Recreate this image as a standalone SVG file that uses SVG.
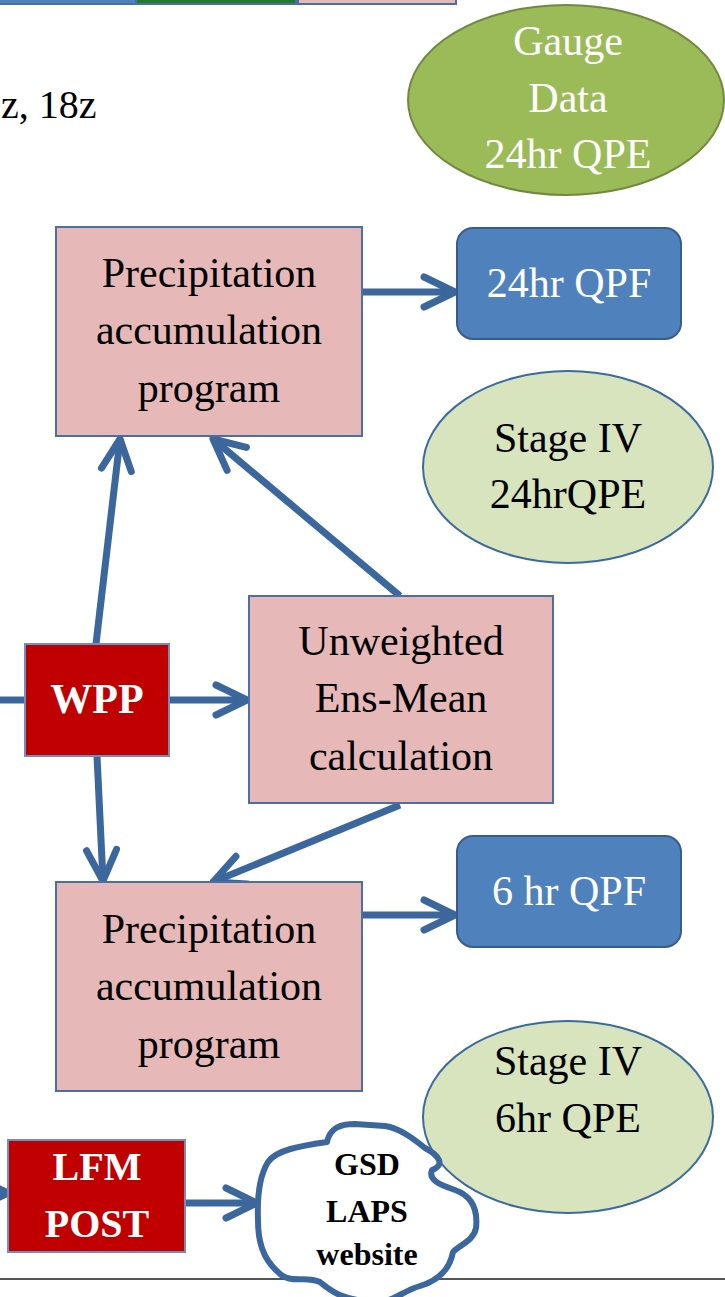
<svg xmlns="http://www.w3.org/2000/svg" width="725" height="1297" viewBox="0 0 725 1297">
<style>
.t{font-family:"Liberation Serif","Times New Roman",serif;font-size:42px;text-anchor:middle;fill:#000}
.w{fill:#fff}
.b{font-weight:bold}
.pink{fill:#e6b9b8;stroke:#4a6fa5;stroke-width:2}
.qpf{fill:#4f81bd;stroke:#385d8a;stroke-width:2}
.red{fill:#c00000;stroke:#6f8fbf;stroke-width:2}
.stage{fill:#d7e4bd;stroke:#3b6aa0;stroke-width:2}
.c{stroke:#3b679c;stroke-width:7;fill:none}
</style>
<defs>
<marker id="ah" markerUnits="userSpaceOnUse" viewBox="0 0 40 40" markerWidth="40" markerHeight="40" refX="36" refY="20" orient="auto" overflow="visible">
<path d="M5,5 L36,20 L5,35" fill="none" stroke="#3b679c" stroke-width="7" stroke-linecap="round" stroke-linejoin="round"/>
</marker>
</defs>
<g id="top-partial">
<rect x="-10" y="-50" width="146" height="54" fill="#4f81bd" stroke="#4a6fa5" stroke-width="2"/>
<rect x="136" y="-50" width="160" height="54" fill="#26782b" stroke="#4a6fa5" stroke-width="2"/>
<rect x="298" y="-50" width="158" height="54" fill="#e6b9b8" stroke="#4a6fa5" stroke-width="2"/>
</g>
<g id="label-times"><text class="t" x="1" y="118" style="text-anchor:start;font-size:40px">z, 18z</text></g>
<line x1="0" y1="1279" x2="725" y2="1279" stroke="#555" stroke-width="2"/>
<g id="connectors">
<line class="c" x1="362" y1="292" x2="455" y2="292" marker-end="url(#ah)"/>
<line class="c" x1="362" y1="915" x2="455" y2="915" marker-end="url(#ah)"/>
<line class="c" x1="169" y1="700" x2="247" y2="700" marker-end="url(#ah)"/>
<line class="c" x1="96" y1="644" x2="120" y2="439" marker-end="url(#ah)"/>
<line class="c" x1="97" y1="756" x2="103" y2="881" marker-end="url(#ah)"/>
<line class="c" x1="400" y1="596" x2="213" y2="439" marker-end="url(#ah)"/>
<line class="c" x1="400" y1="805" x2="213" y2="882" marker-end="url(#ah)"/>
<line class="c" x1="185" y1="1203" x2="257" y2="1203" marker-end="url(#ah)"/>
<line class="c" x1="-5" y1="700" x2="25" y2="700"/>
<line class="c" x1="-60" y1="1193" x2="8" y2="1193" marker-end="url(#ah)"/>
</g>
<g id="gauge">
<ellipse cx="566" cy="100" rx="158" ry="95" fill="#9bbb59" stroke="#71893f" stroke-width="2"/>
<text class="t w" x="568" y="55">Gauge</text>
<text class="t w" x="568" y="112">Data</text>
<text class="t w" x="568" y="168">24hr QPE</text>
</g>
<g id="precip1">
<rect class="pink" x="56" y="227" width="306" height="209"/>
<text class="t" x="209" y="287">Precipitation</text>
<text class="t" x="209" y="344">accumulation</text>
<text class="t" x="209" y="402">program</text>
</g>
<g id="qpf24">
<rect class="qpf" x="457" y="228" width="224" height="111" rx="16"/>
<text class="t w" x="569" y="297">24hr QPF</text>
</g>
<g id="stage24">
<ellipse class="stage" cx="568" cy="467" rx="145" ry="96"/>
<text class="t" x="568" y="452">Stage IV</text>
<text class="t" x="568" y="508">24hrQPE</text>
</g>
<g id="wpp">
<rect class="red" x="25" y="644" width="144" height="112"/>
<text class="t w b" x="97" y="713">WPP</text>
</g>
<g id="ensmean">
<rect class="pink" x="249" y="596" width="304" height="207"/>
<text class="t" x="401" y="655">Unweighted</text>
<text class="t" x="401" y="712">Ens-Mean</text>
<text class="t" x="401" y="770">calculation</text>
</g>
<g id="precip2">
<rect class="pink" x="56" y="882" width="306" height="209"/>
<text class="t" x="209" y="943">Precipitation</text>
<text class="t" x="209" y="1000">accumulation</text>
<text class="t" x="209" y="1058">program</text>
</g>
<g id="qpf6">
<rect class="qpf" x="457" y="836" width="224" height="111" rx="16"/>
<text class="t w" x="569" y="905">6 hr QPF</text>
</g>
<g id="stage6">
<ellipse class="stage" cx="568" cy="1117" rx="145" ry="96"/>
<text class="t" x="568" y="1075">Stage IV</text>
<text class="t" x="568" y="1132">6hr QPE</text>
</g>
<g id="lfmpost">
<rect class="red" x="8" y="1140" width="177" height="112"/>
<text class="t w b" x="97" y="1180" style="font-size:40px">LFM</text>
<text class="t w b" x="97" y="1237" style="font-size:40px">POST</text>
</g>
<g id="website">
<path d="M327,1142 C330,1128 340,1124 355,1124 L385,1126 C400,1128 415,1140 425,1148 C440,1156 445,1165 432,1170 C428,1180 440,1185 455,1190 C472,1196 478,1210 476,1228 C474,1240 460,1245 453,1252 C450,1268 440,1280 420,1286 C400,1292 395,1302 375,1302 C340,1300 330,1290 320,1282 C305,1275 290,1285 278,1272 C262,1258 258,1240 258,1220 C257,1195 260,1175 268,1162 C276,1150 300,1146 327,1142 Z" fill="#fff" stroke="#3b679c" stroke-width="6" stroke-linejoin="round"/>
<text class="t b" x="367" y="1175" style="font-size:32px">GSD</text>
<text class="t b" x="367" y="1222" style="font-size:32px">LAPS</text>
<text class="t b" x="367" y="1265" style="font-size:32px">website</text>
</g>
</svg>
